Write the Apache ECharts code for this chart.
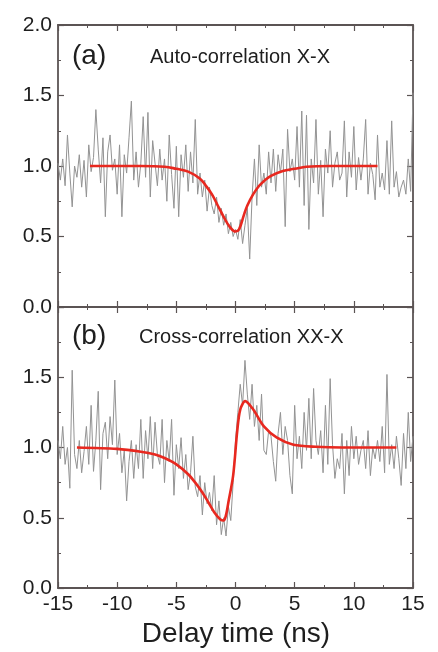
<!DOCTYPE html>
<html><head><meta charset="utf-8">
<script src="https://cdn.jsdelivr.net/npm/echarts@6/dist/echarts.min.js"></script>
<style>html,body{margin:0;padding:0;background:#fff}#c{width:438px;height:652px}</style>
</head><body><div id="c"></div><script>
// Delay grid of the measured histograms (ns)
const delayStart = -15;
const delayStep = 0.2;

// (a) Auto-correlation X-X, measured g2 (t = -15 ... 15, step 0.2)
const autoCorr = [
  1.02, 0.90, 1.05, 0.86, 1.22,
  0.95, 0.71, 1.00, 0.92, 1.08,
  0.85, 1.04, 0.78, 1.15, 0.96,
  1.06, 1.40, 1.12, 0.88, 1.20,
  0.64, 1.10, 1.22, 0.97, 1.05,
  0.80, 1.15, 0.64, 1.08, 0.95,
  1.20, 1.46, 0.90, 1.10, 0.85,
  1.02, 1.35, 0.92, 1.38, 0.78,
  1.18, 1.02, 0.86, 1.12, 0.90,
  1.05, 0.75, 1.22, 0.94, 0.70,
  1.14, 0.64, 1.08, 0.92, 1.15,
  0.82, 1.10, 0.88, 1.33, 0.80,
  0.95, 0.78, 0.90, 0.68, 0.85,
  0.72, 0.66, 0.78, 0.60, 0.70,
  0.58, 0.66, 0.52, 0.60, 0.50,
  0.55, 0.48, 0.62, 0.45, 0.58,
  0.70, 0.34, 0.78, 1.05, 0.72,
  1.15, 0.85, 0.95, 0.80, 1.10,
  0.88, 1.12, 0.82, 1.08, 0.95,
  1.12, 0.57, 1.26, 0.96, 1.05,
  0.90, 1.28, 0.85, 1.39, 0.72,
  1.36, 0.55, 1.05, 0.88, 1.33,
  0.80, 1.04, 0.64, 1.12, 0.95,
  1.25, 0.85, 1.02, 1.10, 0.90,
  0.95, 1.32, 0.78, 1.10, 0.92,
  1.28, 0.83, 1.06, 0.90, 1.05,
  1.33, 0.80, 1.02, 0.94, 0.76,
  1.22, 0.85, 0.95, 0.83, 1.18,
  0.80, 1.32, 0.85, 0.96, 0.78,
  0.85, 0.90, 0.80, 1.05, 0.82,
  1.52
];

// (b) Cross-correlation XX-X, measured g2 (t = -15 ... 15, step 0.2)
const crossCorr = [
  1.05, 0.92, 1.15, 0.88, 1.00,
  0.71, 1.55, 0.95, 0.85, 1.05,
  0.82, 0.97, 1.15, 0.88, 1.30,
  0.83, 1.05, 1.40, 0.70, 1.10,
  1.18, 0.92, 1.22, 1.02, 1.48,
  0.95, 1.10, 0.82, 0.98, 0.62,
  0.90, 1.05, 0.78, 1.02, 0.85,
  1.20, 0.78, 1.12, 0.92, 1.22,
  0.85, 1.18, 0.95, 0.88, 1.20,
  0.75, 1.05, 0.90, 1.20, 0.66,
  1.02, 0.85, 1.07, 0.78, 0.95,
  0.70, 0.82, 1.08, 0.72, 0.65,
  0.80, 0.52, 0.75, 0.60, 0.68,
  0.55, 0.80, 0.45, 0.62, 0.38,
  0.50, 0.37, 0.58, 0.48, 0.75,
  1.05, 1.25, 1.45, 1.30, 1.62,
  1.38, 1.20, 1.45, 1.15, 1.30,
  1.05, 1.38, 0.98, 0.95, 1.12,
  1.08, 0.90, 0.76, 1.10, 1.25,
  0.95, 1.15, 1.05, 0.80, 0.67,
  1.30, 0.92, 1.08, 0.85, 1.25,
  0.98, 1.35, 0.92, 1.42, 1.05,
  0.95, 1.12, 0.82, 1.30, 0.88,
  1.49, 1.02, 0.78, 0.92, 0.85,
  1.10, 0.67, 1.05, 0.80, 1.15,
  0.92, 1.08, 0.88, 0.98, 1.05,
  0.85, 1.12, 0.80, 1.00, 0.92,
  1.05, 0.90, 1.15, 0.82, 1.52,
  0.88, 1.02, 0.85, 1.08, 0.92,
  0.73, 1.10, 0.85, 1.25, 0.90,
  1.08
];

// Fit curves
const autoFitT = [-12.3, -8, -6, -5, -4, -3, -2.5, -2, -1.5, -1, -0.5, 0, 0.3, 0.7, 1.0, 1.5, 2, 2.5, 3, 4, 5, 6, 8, 12];
const autoFitV = [1.0, 1.0, 0.995, 0.98, 0.96, 0.91, 0.86, 0.80, 0.72, 0.64, 0.57, 0.535, 0.55, 0.65, 0.72, 0.80, 0.86, 0.90, 0.93, 0.965, 0.98, 0.995, 1.0, 1.0];
const crossFitT = [-13.4, -10, -8, -6.8, -6, -5, -4, -3.4, -2.8, -2.3, -1.8, -1.3, -1.0, -0.8, -0.6, -0.2, 0.15, 0.4, 0.82, 1.5, 2.4, 3.5, 4.9, 6.8, 9, 13.6];
const crossFitV = [1.0, 0.99, 0.97, 0.95, 0.925, 0.88, 0.81, 0.75, 0.68, 0.61, 0.54, 0.49, 0.48, 0.52, 0.61, 0.80, 1.12, 1.27, 1.33, 1.27, 1.15, 1.07, 1.02, 1.005, 1.0, 1.0];

const panelLabels = ['(a)', '(b)'];
const panelTitles = ['Auto-correlation X-X', 'Cross-correlation XX-X'];
const xAxisTitle = 'Delay time (ns)';

const axisColor = '#5b5454';
const textColor = '#1e1e1e';
const font = '"Liberation Sans", Arial, sans-serif';

function pairs(vals) { return vals.map((v, i) => [delayStart + i * delayStep, v]); }
function zip(t, v) { return t.map((x, i) => [x, v[i]]); }

function xAx(gi, pos, showLabel) {
  return {
    type: 'value', gridIndex: gi, position: pos, min: -15, max: 15, interval: 5,
    axisLine: { show: true, onZero: false, lineStyle: { color: axisColor, width: 1.8 } },
    axisTick: { show: true, inside: true, length: 6, lineStyle: { color: axisColor, width: 1.2 } },
    minorTick: { show: true, splitNumber: 2, length: 3, lineStyle: { color: axisColor, width: 1 } },
    splitLine: { show: false }, minorSplitLine: { show: false },
    axisLabel: { show: showLabel, fontSize: 21, color: textColor, margin: 6, fontFamily: font }
  };
}
function yAx(gi, pos, showLabel, showMax) {
  return {
    type: 'value', gridIndex: gi, position: pos, min: 0, max: 2, interval: 0.5,
    axisLine: { show: true, onZero: false, lineStyle: { color: axisColor, width: 1.8 } },
    axisTick: { show: true, inside: true, length: 6, lineStyle: { color: axisColor, width: 1.2 } },
    minorTick: { show: true, splitNumber: 2, length: 3, lineStyle: { color: axisColor, width: 1 } },
    splitLine: { show: false }, minorSplitLine: { show: false },
    axisLabel: { show: showLabel, showMaxLabel: showMax, fontSize: 21, color: textColor, margin: 6, fontFamily: font,
      formatter: v => v.toFixed(1) }
  };
}

const chart = echarts.init(document.getElementById('c'), null, { renderer: 'canvas' });
chart.setOption({
  animation: false,
  backgroundColor: '#fff',
  grid: [
    { left: 58, top: 25, width: 355, height: 282, containLabel: false, outerBoundsMode: 'none' },
    { left: 58, top: 307, width: 355, height: 281, containLabel: false, outerBoundsMode: 'none' }
  ],
  xAxis: [xAx(0, 'bottom', false), xAx(0, 'top', false), xAx(1, 'bottom', true), xAx(1, 'top', false)],
  yAxis: [yAx(0, 'left', true, true), yAx(0, 'right', false, true), yAx(1, 'left', true, false), yAx(1, 'right', false, false)],
  series: [
    { type: 'line', xAxisIndex: 0, yAxisIndex: 0, data: pairs(autoCorr), showSymbol: false,
      lineStyle: { color: '#939393', width: 1 }, z: 2 },
    { type: 'line', xAxisIndex: 0, yAxisIndex: 0, data: zip(autoFitT, autoFitV), showSymbol: false, smooth: 0.4,
      lineStyle: { color: '#e8281f', width: 2.6 }, z: 3 },
    { type: 'line', xAxisIndex: 2, yAxisIndex: 2, data: pairs(crossCorr), showSymbol: false,
      lineStyle: { color: '#939393', width: 1 }, z: 2 },
    { type: 'line', xAxisIndex: 2, yAxisIndex: 2, data: zip(crossFitT, crossFitV), showSymbol: false, smooth: 0.3,
      lineStyle: { color: '#e8281f', width: 2.6 }, z: 3 }
  ],
  graphic: [
    { type: 'text', left: 72, top: 42, style: { text: panelLabels[0], font: '28px ' + font, fill: textColor } },
    { type: 'text', left: 150, top: 47, style: { text: panelTitles[0], font: '20px ' + font, fill: textColor } },
    { type: 'text', left: 72, top: 322, style: { text: panelLabels[1], font: '28px ' + font, fill: textColor } },
    { type: 'text', left: 139, top: 327, style: { text: panelTitles[1], font: '20px ' + font, fill: textColor } },
    { type: 'text', x: 236, y: 620, style: { text: xAxisTitle, font: '28px ' + font, fill: textColor, textAlign: 'center' } }
  ]
});
</script></body></html>
